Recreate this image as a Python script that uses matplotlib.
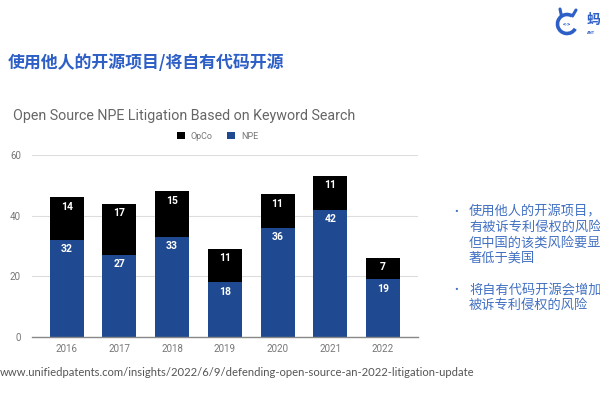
import matplotlib
matplotlib.use("Agg")
import matplotlib.pyplot as plt
from matplotlib.patches import Patch, Arc

plt.rcParams['font.family'] = ['Roboto', 'Noto Sans CJK SC', 'DejaVu Sans']

years = ["2016", "2017", "2018", "2019", "2020", "2021", "2022"]
npe = [32, 27, 33, 18, 36, 42, 19]
opco = [14, 17, 15, 11, 11, 11, 7]
y_ticks = [0, 20, 40, 60]

slide_title = "使用他人的开源项目/将自有代码开源"
chart_title = "Open Source NPE Litigation Based on Keyword Search"
bullets = [
    ["使用他人的开源项目，", "有被诉专利侵权的风险", "但中国的该类风险要显", "著低于美国"],
    ["将自有代码开源会增加", "被诉专利侵权的风险"],
]
source_url = "www.unifiedpatents.com/insights/2022/6/9/defending-open-source-an-2022-litigation-update"

NPE_BLUE = "#1f4a91"
TITLE_BLUE = "#2d5fc6"
TEXT_BLUE = "#4170c2"
GRAY = "#777777"
CJK = ["Noto Sans CJK SC", "DejaVu Sans"]

fig = plt.figure(figsize=(6, 4), dpi=100)
fig.patch.set_facecolor("white")

ax = fig.add_axes([0.0533, 0.1575, 0.643, 0.455])
x = list(range(len(years)))
w = 0.645
ax.bar(x, npe, width=w, color=NPE_BLUE, label="NPE", zorder=3)
ax.bar(x, opco, width=w, bottom=npe, color="black", label="OpCo", zorder=3)

for i in x:
    ax.annotate(str(npe[i]), (i, npe[i]), xytext=(0, -3), textcoords="offset points",
                ha="center", va="top", color="white", fontsize=7.5, fontweight="bold", zorder=4)
    ax.annotate(str(opco[i]), (i, npe[i] + opco[i]), xytext=(0, -3), textcoords="offset points",
                ha="center", va="top", color="white", fontsize=7.5, fontweight="bold", zorder=4)

ax.set_xlim(-0.66, 6.66)
ax.set_ylim(0, 60)
ax.set_yticks(y_ticks)
ax.set_xticks(x)
ax.set_xticklabels(years)
ax.tick_params(axis="both", length=0, colors=GRAY, labelsize=7)
ax.tick_params(axis="y", pad=8)
ax.tick_params(axis="x", pad=5)
ax.grid(axis="y", color="#dddddd", linewidth=0.8, zorder=0)
for s in ["top", "right", "left"]:
    ax.spines[s].set_visible(False)
ax.spines["bottom"].set_color("#888888")
ax.spines["bottom"].set_linewidth(1.0)
ax.spines["bottom"].set_zorder(5)

handles = [Patch(facecolor="black", label="OpCo"), Patch(facecolor=NPE_BLUE, label="NPE")]
fig.legend(handles=handles, loc="center left", bbox_to_anchor=(0.282, 1 - 136 / 400), ncol=2,
           frameon=False, fontsize=6.5, handlelength=0.9, handleheight=0.9,
           handletextpad=0.6, columnspacing=1.6, labelcolor=GRAY)

fig.text(13 / 600, 1 - 116 / 400, chart_title, fontsize=10.3, color="#666666",
         ha="left", va="center")

fig.text(8 / 600, 1 - 63 / 400, slide_title, fontsize=12.2, fontweight="bold",
         color=TITLE_BLUE, ha="left", va="center", family=CJK)

# bullets
yy = 212
for group in bullets:
    fig.text(454 / 600, 1 - yy / 400, "•", fontsize=8, color=TEXT_BLUE, ha="left", va="center")
    for line in group:
        fig.text(469 / 600, 1 - yy / 400, line, fontsize=9.5, color=TEXT_BLUE,
                 ha="left", va="center", family=CJK)
        yy += 15.5
    yy += 16

fig.text(0.0, 1 - 373 / 400, source_url, fontsize=8.1, color="#555555",
         ha="left", va="center", family=["Lato", "DejaVu Sans"])

# logo
lax = fig.add_axes([553 / 600, 1 - 37 / 400, 28 / 600, 30 / 400])
lax.set_xlim(-1.4, 1.4)
lax.set_ylim(-1.5, 1.5)
lax.set_aspect("equal")
lax.axis("off")
lax.add_patch(Arc((0, -0.2), 1.9, 1.9, theta1=60, theta2=330, color=TITLE_BLUE, lw=2.6))
lax.plot([-0.55, -0.7], [0.6, 1.3], color=TITLE_BLUE, lw=2.2, solid_capstyle="round")
lax.plot([0.55, 0.9], [0.6, 1.2], color=TITLE_BLUE, lw=2.2, solid_capstyle="round")
lax.text(0, -0.2, "<·>", fontsize=4.5, color=TITLE_BLUE, ha="center", va="center",
         fontweight="bold")
fig.text(587 / 600, 1 - 20 / 400, "蚂", fontsize=10, color=TITLE_BLUE, ha="left", va="center",
         fontweight="bold", family=CJK)
fig.text(587 / 600, 1 - 33 / 400, "ANT", fontsize=3, color=TITLE_BLUE, ha="left", va="center",
         fontweight="bold")

fig.savefig("out.png", dpi=100, facecolor="white")
